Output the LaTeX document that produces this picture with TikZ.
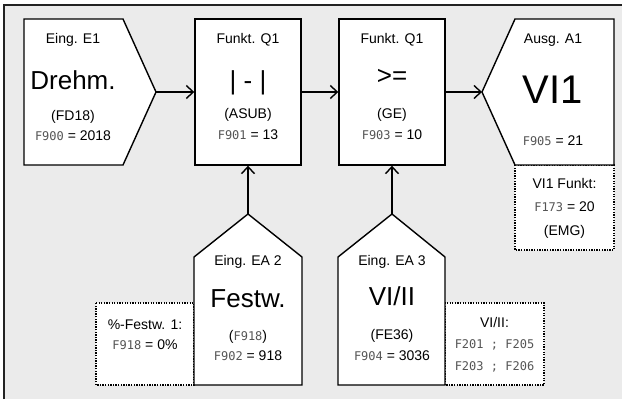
\documentclass[tikz,border=0pt]{standalone}
\usepackage{fontspec}
\setmainfont{Liberation Sans}
\newfontfamily\segfont{DejaVu Sans Mono}
\usepackage{tikz}
\usetikzlibrary{arrows.meta,positioning}
\definecolor{panelgray}{HTML}{EBEBEB}
\definecolor{framegray}{HTML}{222222}
\definecolor{seggray}{HTML}{555555}
\newcommand\sseg[1]{{\segfont\fontsize{12}{14}\selectfont\color{seggray}#1}}

\begin{document}
\begin{tikzpicture}[x=1pt,y=-1pt,
  font=\fontsize{14}{16}\selectfont,
  blk/.style={draw,line width=1.4pt,fill=white,line join=miter},
  note/.style={draw,line width=1.3pt,dash pattern=on 1.3pt off 1.3pt,fill=white},
  a/.style={-{Straight Barb[length=7pt,width=13pt]},line width=1.4pt},
  t/.style={inner sep=0pt,anchor=center},
  mid/.style={t,font=\fontsize{26}{28}\selectfont},
  huge/.style={t,font=\fontsize{40}{42}\selectfont}]
\useasboundingbox (0,0) rectangle (626,399);
% panel
\fill[panelgray] (4,5) rectangle (622,399);
\draw[framegray,line width=1.6pt] (4,399) -- (4,5) -- (622,5);
% dotted notes
\draw[note] (515,165) rectangle (614,250);
\draw[note] (96,303) rectangle (194,385);
\draw[note] (445,303) rectangle (544,385);
% blocks
\draw[blk] (24,19) -- (123,19) -- (156,92) -- (123,165) -- (24,165) -- cycle;
\coordinate (e1tip) at (156,92);
\node[blk,minimum width=106pt,minimum height=146pt] (q1) at (248,92) {};
\node[blk,minimum width=106pt,minimum height=146pt] (q2) at (392,92) {};
\draw[blk] (482,92) -- (515,19) -- (614,19) -- (614,165) -- (515,165) -- cycle;
\coordinate (a1tip) at (482,92);
\draw[blk] (194,385) -- (194,257) -- (248,214) -- (302,257) -- (302,385) -- cycle;
\coordinate (ea2tip) at (248,214);
\draw[blk] (338,385) -- (338,257) -- (392,214) -- (445,257) -- (445,385) -- cycle;
\coordinate (ea3tip) at (392,214);
% Eing. E1
\node[t] (e1a) at (73,40) {Eing. E1};
\node[mid] (e1b) at (73,80) {Drehm.};
\node[t] (e1c) at (73,117) {(FD18)};
\node[t] (e1d) at (73,136) {\sseg{F900} = 2018};
% Funkt. Q1 (ASUB)
\node[t] (q1a) at (248,40) {Funkt. Q1};
\node[mid] (q1b) at (248,83) {| - |};
\node[t] (q1c) at (248,115) {(ASUB)};
\node[t] (q1d) at (248,135) {\sseg{F901} = 13};
% Funkt. Q1 (GE)
\node[t] (q2a) at (392,40) {Funkt. Q1};
\node[mid] (q2b) at (392,77) {>=};
\node[t] (q2c) at (392,115) {(GE)};
\node[t] (q2d) at (392,135) {\sseg{F903} = 10};
% Ausg. A1
\node[t] (a1a) at (553,40) {Ausg. A1};
\node[huge] (a1b) at (553,90) {VI1};
\node[t] (a1c) at (553,141) {\sseg{F905} = 21};
\node[t] (a1n1) at (564.5,183) {VI1 Funkt:};
\node[t] (a1n2) at (564.5,207) {\sseg{F173} = 20};
\node[t] (a1n3) at (564.5,232) {(EMG)};
% Eing. EA 2
\node[t] (ea2a) at (248,262) {Eing. EA 2};
\node[mid] (ea2b) at (248,299) {Festw.};
\node[t] (ea2c) at (248,337) {(\sseg{F918})};
\node[t] (ea2d) at (248,356) {\sseg{F902} = 918};
\node[t] (ea2n1) at (145,325) {\%-Festw. 1:};
\node[t] (ea2n2) at (145,345) {\sseg{F918} = 0\%};
% Eing. EA 3
\node[t] (ea3a) at (392,262) {Eing. EA 3};
\node[mid] (ea3b) at (392,296) {VI/II};
\node[t] (ea3c) at (392,336) {(FE36)};
\node[t] (ea3d) at (392,356) {\sseg{F904} = 3036};
\node[t] (ea3n1) at (494.5,322) {VI/II:};
\node[t] (ea3n2) at (494.5,345) {\sseg{F201 ; F205}};
\node[t] (ea3n3) at (494.5,367) {\sseg{F203 ; F206}};
% connectors
\draw[a] (e1tip) -- (q1.west);
\draw[a] (q1.east) -- (q2.west);
\draw[a] (q2.east) -- (a1tip);
\draw[a] (ea2tip) -- (q1.south);
\draw[a] (ea3tip) -- (q2.south);
\end{tikzpicture}
\end{document}
